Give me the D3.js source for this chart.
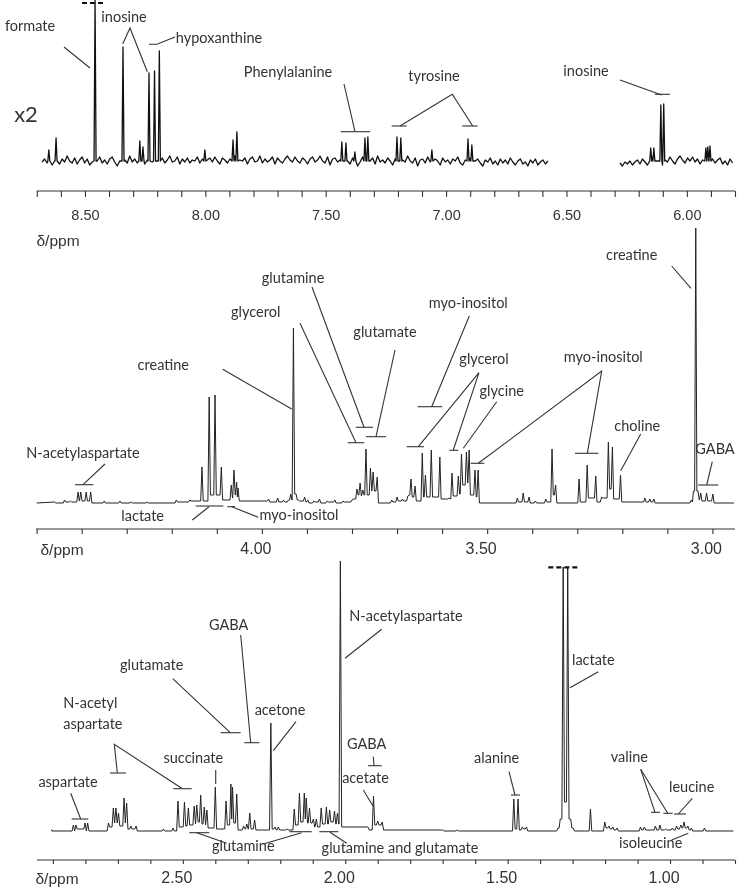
<!DOCTYPE html>
<html>
<head>
<meta charset="utf-8">
<script src="https://cdn.jsdelivr.net/npm/d3@7"></script>
<style>
html,body{margin:0;padding:0;background:#fff;}
svg{display:block;filter:blur(0.35px);}
.lbl{font-family:Lato,"Noto Sans",sans-serif;font-size:14.5px;fill:#333;text-anchor:middle;dominant-baseline:central;}
.tick text,.unit{font-family:"Liberation Sans",Arial,sans-serif;fill:#333;}
</style>
</head>
<body>
<div id="chart"></div>
<script>
// ---- Data: chemical shift (ppm), peak height, and line level after each peak ----
const topPpm = [8.650,8.620,8.458,8.342,8.272,8.259,8.234,8.211,8.191,8.002,7.885,7.869,7.433,7.416,7.379,7.337,7.325,7.204,7.188,7.059,6.909,6.893,6.150,6.137,6.108,6.096,5.921,5.913,5.904];
const topHeight = [10,22,160,113,19,13,87,89,109,10,20,28,18,17,8,22,23,23,22,10,21,15,12,12,55,56,12,13,14];
const topGapHigh = 6.57, topGapLow = 6.28;
// baseline wiggle of the x2 trace, left part then right part
const topWiggleLeft = [-2,1,-3,0,-5,-1,2,-4,1,-2,4,-1,-3,2,-4,0,3,-3,1,-5,-2,2,-1,3,-3,0,-4,1,3,-2,-6,-1,2,0,-3,4,-2,1,-3,-1,2,-4,0,3,-2,1,-1,-5,2,-3,0,4,-2,-1,3,-4,1,-2,2,-3,0,-1,3,-3,1,-5,0,2,-2,3,-1,-4,2,0,-3,1,-2,4,-3,0,-1,2,-4,1,3,-2,-1,4,-3,1,-2,0,3,-4,2,-1,-3,1,4,0,-2,3,-1,-3,2,0,-4,1,3,-2,0,4,-1,-3,3,-5,1,2,-2,0,-3,3,-1,-4,2,0,-6,-2,3,-3,1,-1,2,-4,4,-2,0,-3,2,-1,-5,1,3,-3,0,-2,4,-1,-3,2,-6,0,1,-3,3,-2,-4,1,-1,-5,2,-2,0,-4,1,-1,3,-3,-5,0,-2,2,-4,-1,1,-3,-6,0,-2,2,-4,-1,-5,1,-3,0,-4,2,-2,-5,-1,1,-4,-2,-6,0,-3,1,-5,-2,0,-4,-1,-5,-2,1];
const topWiggleRight = [-3,-6,-2,-4,-1,-5,-2,0,-4,1,-2,-5,0,3,-3,-1,2,-5,0,-2,3,-1,-4,1,4,0,-3,2,-1,3,-2,1,-4,0,4,-2,-5,1,-3,0,2,-4,-1,-5,1,-3,0];
const topWiggleStep = 0.0104;

const midPpm = [4.460,4.438,4.425,4.408,4.402,4.390,4.380,4.350,4.315,4.290,4.255,4.190,4.160,4.133,4.117,4.104,4.090,4.068,4.062,4.056,4.053,3.985,3.965,3.952,3.941,3.936,3.930,3.924,3.919,3.905,3.898,3.885,3.872,3.855,3.838,3.820,3.800,3.789,3.782,3.776,3.769,3.759,3.753,3.744,3.712,3.700,3.688,3.676,3.669,3.660,3.644,3.637,3.624,3.605,3.585,3.578,3.564,3.557,3.546,3.540,3.527,3.520,3.433,3.420,3.407,3.393,3.370,3.356,3.348,3.296,3.278,3.259,3.246,3.231,3.222,3.204,3.150,3.139,3.130,3.047,3.042,3.037,3.032,3.026,3.013,2.999];
const midHeight = [1,3,2,11,11,11,11,2,2,1,1,3,3,36,106,108,36,18,33,21,15,4,5,3,3,9,175,9,3,6,3,2,4,2,3,2,3,14,20,13,54,35,31,26,3,6,4,7,24,17,50,28,53,46,5,30,27,49,51,53,33,33,5,10,6,2,4,54,18,24,38,27,6,61,56,28,5,4,4,3,12,275,12,10,10,9];
const midFoot = [0,1,1,2,2,2,0,0,0,0,0,1,2,2,8,8,3,5,8,6,2,1,1,1,3,3,9,3,2,1,0,1,0,1,0,1,4,8,7,8,8,12,12,0,1,2,2,8,6,2,6,6,6,4,4,7,9,18,20,8,6,0,1,1,0,0,1,8,0,1,5,1,5,14,4,1,1,1,0,1,12,12,3,2,2,0];
const midWidth = 0.0028;

const botPpm = [2.905,2.837,2.829,2.801,2.793,2.729,2.714,2.706,2.698,2.681,2.673,2.660,2.644,2.560,2.530,2.515,2.495,2.483,2.465,2.457,2.445,2.434,2.426,2.400,2.367,2.352,2.347,2.334,2.313,2.303,2.294,2.279,2.229,2.216,2.206,2.180,2.157,2.141,2.126,2.120,2.110,2.098,2.089,2.074,2.058,2.048,2.033,2.024,2.015,1.930,1.913,1.900,1.886,1.700,1.655,1.481,1.468,1.455,1.442,1.345,1.338,1.329,1.315,1.306,1.298,1.245,1.201,1.188,1.176,1.163,1.091,1.079,1.045,1.031,1.014,0.993,0.980,0.967,0.957,0.945,0.934,0.894];
const botHeight = [1,6,6,8,8,8,23,23,18,33,28,5,5,2,3,30,29,23,25,26,36,24,21,44,30,47,44,37,5,7,18,11,108,4,4,2,22,38,38,33,23,12,12,23,24,21,20,18,270,4,35,10,9,1,1,32,32,4,4,3,12,264,264,12,3,22,9,5,4,3,4,4,5,6,2,3,5,6,9,5,3,3];
const botFoot = [0,0,2,0,0,4,8,8,5,8,2,2,0,0,0,4,5,6,7,9,7,6,3,2,6,12,8,1,2,2,2,1,2,1,1,1,6,9,12,8,8,4,4,7,7,9,7,7,4,1,6,6,1,0,0,2,1,2,0,3,12,29,12,3,0,0,3,2,1,0,1,1,1,1,1,1,2,3,3,1,0,0];
const botWidth = 0.004;

const topMajors = [8.5,8,7.5,7,6.5,6];
const midMajors = [4,3.5,3];
const botMajors = [2.5,2,1.5,1];
const unitLabel = "δ/ppm";

// ---- Layout ----
const W = 740, H = 890;
const panels = [
  {domain:[8.70,5.80], range:[36.8,735], base:160, axisY:191, tickLen:6, fs:14.5, labelY:215, dx:0, majors:topMajors, unitX:58, unitY:240},
  {domain:[4.5513,2.9499], range:[13.5,735], base:503, axisY:529, tickLen:5, fs:16, labelY:548, dx:-6.5, majors:midMajors, unitX:62, unitY:549},
  {domain:[2.949,0.8], range:[37,735], base:831, axisY:860, tickLen:4, fs:16, labelY:877, dx:-6.5, majors:botMajors, unitX:57, unitY:878}
];

const svg = d3.select("#chart").append("svg").attr("width",W).attr("height",H).attr("viewBox",`0 0 ${W} ${H}`);

function xScale(p){ return d3.scaleLinear().domain(p.domain).range(p.range); }
function yScale(p){ return d3.scaleLinear().domain([0,100]).range([p.base,p.base-100]); }

function peakVertices(ppm,height,foot,w,start,end){
  const v=[[start,foot[0]>0?foot[0]:0]];
  ppm.forEach((c,i)=>{
    v.push([c,height[i]]);
    if(i<ppm.length-1){
      const next=ppm[i+1];
      if(c-next>2*w){ v.push([c-w,foot[i]],[next+w,foot[i]]); }
      else { v.push([(c+next)/2,foot[i]]); }
    }
  });
  v.push([ppm[ppm.length-1]-w,0],[end,0]);
  return v;
}

function topVertices(wiggle,startPpm,lo,hi){
  const w=0.0042;
  const pts=wiggle.map((n,i)=>[startPpm-i*topWiggleStep,n]);
  const inRange=topPpm.map((c,i)=>[c,topHeight[i]]).filter(d=>d[0]<=hi&&d[0]>=lo);
  const kept=pts.filter(d=>!inRange.some(q=>Math.abs(q[0]-d[0])<w*1.1)&&d[0]>=lo&&d[0]<=hi);
  const extra=[];
  inRange.forEach(q=>{extra.push(q,[q[0]+w,-1],[q[0]-w,-1]);});
  return kept.concat(extra).sort((a,b)=>b[0]-a[0]);
}

panels.forEach((p,idx)=>{
  const x=xScale(p), y=yScale(p);
  const line=d3.line().x(d=>x(d[0])).y(d=>y(d[1]));
  const traces = idx===0
    ? [topVertices(topWiggleLeft,8.678,topGapHigh,8.68),topVertices(topWiggleRight,6.278,5.81,topGapLow)]
    : idx===1 ? [peakVertices(midPpm,midHeight,midFoot,midWidth,4.5,2.952)]
    : [peakVertices(botPpm,botHeight,botFoot,botWidth,2.9,0.805)];
  svg.append("g").selectAll("path").data(traces).join("path")
    .attr("d",line).attr("fill","none")
    .attr("stroke",idx===0?"#111":"#222").attr("stroke-width",idx===0?1.3:1).attr("stroke-linejoin","round");

  // axis with a tick every 0.1 ppm, labelled at the listed majors
  const ticks=d3.range(Math.ceil(p.domain[1]*10),Math.floor(p.domain[0]*10)+1).map(d=>d/10).filter(d=>x(d)>=35);
  const axis=d3.axisBottom(x).tickValues(ticks).tickSize(p.tickLen)
    .tickFormat(d=>p.majors.some(m=>Math.abs(m-d)<1e-6)?d3.format(".2f")(d):"");
  const g=svg.append("g").attr("transform",`translate(0,${p.axisY})`).call(axis);
  g.select(".domain").attr("stroke","#333").attr("stroke-width",1.2).attr("d",`M${Math.max(36,p.range[0])},0H735`);
  g.selectAll(".tick line").attr("stroke","#333").attr("stroke-width",1.1);
  g.selectAll(".tick text").attr("y",p.labelY-p.axisY).attr("dy",0).attr("dx",p.dx)
    .attr("dominant-baseline","central").attr("font-size",p.fs);
  svg.append("text").attr("class","unit").attr("x",p.unitX).attr("y",p.unitY)
    .attr("text-anchor","middle").attr("dominant-baseline","central").attr("font-size",15.5).text(unitLabel);
});

// ---- Annotations: name, then label centre ----
const labels = [
 ["formate",30,25],["inosine",124,16],["hypoxanthine",219,37],["Phenylalanine",288,71],["tyrosine",434,75],["inosine",586,70],
 ["N-acetylaspartate",83,452.7],["lactate",142.7,515.7],["myo-inositol",299,514.3],["creatine",163.3,364.3],["glycerol",255.7,311],
 ["glutamine",293,277],["glutamate",385,331],["myo-inositol",468.3,302],["glycerol",484,358],["glycine",501.7,390.7],
 ["myo-inositol",603.3,356],["choline",637.3,425.3],["creatine",631.7,254.3],["GABA",715,448.3],
 ["aspartate",68,781],["succinate",193.3,757.3],["glutamate",151.7,664.3],["GABA",228.7,624],["acetone",280,709.3],
 ["glutamine",243.3,845.3],["glutamine and glutamate",400,847],["N-acetylaspartate",406,615],["GABA",366.7,743.3],["acetate",365.5,777.7],
 ["alanine",496.7,757.7],["lactate",593.3,659],["valine",629.3,756.7],["leucine",691.7,786.7],["isoleucine",650.7,842.7]
];
svg.append("g").selectAll("text").data(labels).join("text").attr("class","lbl")
  .attr("x",d=>d[1]).attr("y",d=>d[2]).text(d=>d[0]);
svg.append("g").selectAll("text").data([["N-acetyl",702.3],["aspartate",723.3]]).join("text").attr("class","lbl")
  .style("text-anchor","start").attr("x",63.3).attr("y",d=>d[1]).text(d=>d[0]);
svg.append("text").attr("class","lbl").style("font-size","22px").attr("x",26).attr("y",113).text("x2");

// leader lines and bars
const leaders = [
 [[64,47],[90,68]],[[122.7,44],[130,28],[147.3,71.7]],[[149,44.3],[157,44.3],[175,37]],
 [[340.7,131.7],[370,131.7]],[[344,84],[355,131.7]],
 [[391.7,126],[406.7,126]],[[462.3,126],[477.7,126]],[[400,126],[452.3,94.3],[472.7,126]],
 [[620,80],[661.7,95]],[[655,94.3],[670,94.3]],
 [[75,484.7],[93.3,484.7]],[[83,484.7],[105,464]],[[195.7,506],[223.3,506]],[[209,506.7],[192.3,520]],
 [[227.3,506.7],[235,506.7]],[[231.7,506.7],[258.3,517.3]],[[222.7,369.3],[291.7,409]],
 [[300,323.3],[356,442.7]],[[347.7,442.7],[364.3,442.7]],[[312,287],[364,427.3]],[[355.7,427.3],[373,427.3]],
 [[395,350],[376,436.7]],[[366,436.7],[386,436.7]],[[469.3,316],[431.7,406.7]],[[417.7,406.7],[442.3,406.7]],
 [[418.3,446.7],[479,372.7],[453.3,450]],[[406.7,446.7],[424,446.7]],[[449.3,450.3],[458.3,450.3]],
 [[496.7,401.7],[463.3,448.3]],[[478.3,463.3],[601.7,371],[587.3,453.3]],[[470.7,463.3],[484.3,463.3]],[[575,453.3],[598.3,453.3]],
 [[640.7,434],[620.7,470.7]],[[671.7,266],[691,288.3]],[[712.3,461.7],[706.7,485]],[[698.3,485],[718.3,485]],
 [[70.7,793.3],[80.7,819]],[[71.7,819],[88.3,819]],[[117.3,772.7],[114.3,744.3],[181.7,788.3]],[[110,773],[126,773]],[[173.3,788.7],[191.7,788.7]],
 [[215.7,770],[215.7,784]],[[172.7,678.7],[230,732.3]],[[220.7,732.7],[240.7,732.7]],[[240.7,635],[250.7,742.7]],[[244.3,742.7],[259.3,742.7]],
 [[296,721.7],[273.3,750.7]],[[189.3,832.7],[209.3,832.7]],[[196.7,832.7],[226.7,843.3]],[[301.7,832.7],[263.3,844]],[[289.3,831.7],[311.7,831.7]],
 [[319.3,831.7],[338.3,831.7]],[[330,832.3],[346.7,843.3]],[[345,658.3],[381.7,629.3]],[[373.3,756.7],[374,765.7]],[[368,765.7],[381.7,765.7]],
 [[363.3,790],[373,806]],[[509,771.7],[515,795]],[[511,795],[520,795]],[[598.3,671.7],[570,687.7]],
 [[640.7,769.3],[655,812.3]],[[640.7,769.3],[667.7,813.3]],[[651,812.3],[660,812.3]],[[663.3,813.3],[672.7,813.3]],
 [[692.3,798.3],[678.3,814]],[[674,814],[686,814]],[[671.7,840],[688.3,833.3]]
];
svg.append("g").selectAll("path").data(leaders).join("path")
  .attr("d",d3.line()).attr("fill","none").attr("stroke","#333").attr("stroke-width",1.1);
// dashed clip marks over the peaks that run off scale
svg.append("g").selectAll("path").data([[[82,3],[105,3]],[[548.3,567.3],[578.3,567.3]]]).join("path")
  .attr("d",d3.line()).attr("fill","none").attr("stroke","#111").attr("stroke-width",2.2).attr("stroke-dasharray","5,3");
</script>
</body>
</html>
